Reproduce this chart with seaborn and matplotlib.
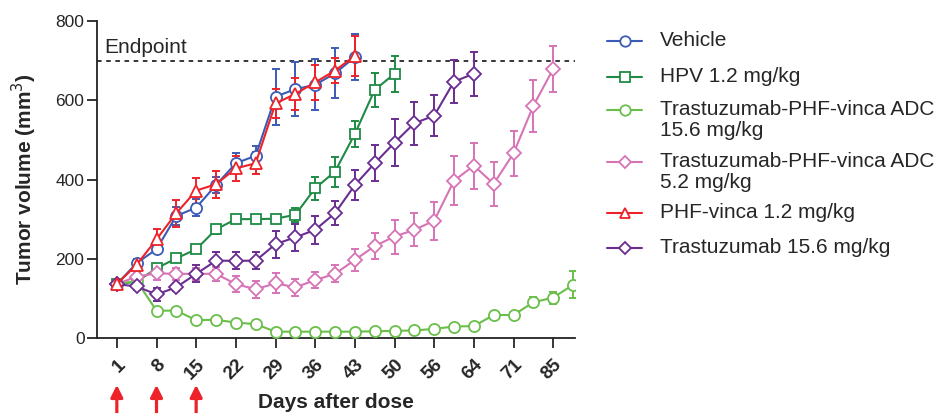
import numpy as np
import pandas as pd
import matplotlib
matplotlib.use('Agg')
import matplotlib.pyplot as plt
import seaborn as sns
from matplotlib.lines import Line2D

# tick labels (days after dose) - measurements every half tick
tick_days = ['1', '8', '15', '22', '29', '36', '43', '50', '56', '64', '71', '85']

vehicle = [136, 189, 224, 308, 329, 386, 441, 460, 609, 628, 639, 668, 709]
vehicle_err = [8, 10, 10, 23, 22, 20, 25, 25, 71, 68, 64, 63, 58]

hpv = [136, 142, 176, 201, 224, 274, 300, 300, 301, 311, 378, 420, 515, 626, 667]
hpv_err = [6, 6, 6, 6, 6, 12, 10, 8, 8, 17, 29, 38, 33, 43, 45]

adc_156 = [136, 144, 69, 69, 45, 46, 39, 35, 16, 16, 16, 16, 16, 17, 18, 19, 23, 29, 30, 58, 58, 90, 102, 134]
adc_156_err = [5, 5, 6, 5, 5, 4, 4, 4, 3, 3, 3, 3, 3, 3, 3, 3, 3, 4, 4, 6, 6, 13, 15, 34]

adc_52 = [136, 155, 163, 162, 162, 162, 136, 123, 138, 128, 146, 162, 197, 232, 256, 273, 296, 397, 435, 389, 466, 586, 679]
adc_52_err = [6, 12, 17, 15, 15, 17, 21, 21, 25, 21, 21, 21, 27, 32, 43, 42, 48, 62, 58, 56, 56, 65, 58]

phf = [136, 185, 249, 315, 372, 388, 428, 441, 592, 616, 645, 675, 712]
phf_err = [8, 10, 27, 34, 33, 34, 32, 28, 37, 40, 44, 32, 50]

trast = [136, 130, 110, 128, 162, 195, 195, 195, 237, 254, 273, 315, 386, 441, 493, 542, 561, 647, 667]
trast_err = [6, 8, 17, 10, 21, 23, 21, 21, 34, 34, 35, 31, 38, 45, 59, 54, 51, 55, 56]

dose_ticks = [0, 1, 2]  # dosing at days 1, 8, 15
endpoint = 700

series = [
    ('Vehicle', vehicle, vehicle_err, '#3b5bb5', 'o', 8),
    ('HPV 1.2 mg/kg', hpv, hpv_err, '#1f8b45', 's', 7.5),
    ('Trastuzumab-PHF-vinca ADC\n15.6 mg/kg', adc_156, adc_156_err, '#6abf4b', 'o', 8),
    ('Trastuzumab-PHF-vinca ADC\n5.2 mg/kg', adc_52, adc_52_err, '#d774b6', 'D', 7),
    ('Trastuzumab 15.6 mg/kg', trast, trast_err, '#6a2d91', 'D', 7),
    ('PHF-vinca 1.2 mg/kg', phf, phf_err, '#ee2229', '^', 8),
]

sns.set_style('ticks')
plt.rcParams['font.family'] = ['Liberation Sans', 'DejaVu Sans']

fig = plt.figure(figsize=(9.43, 4.13), dpi=100)
ax = fig.add_axes([97/943, 75/413, 478/943, 317/413])

for name, vals, errs, col, mk, ms in series:
    x = np.arange(len(vals)) / 2
    ax.errorbar(x, vals, yerr=errs, fmt='none', ecolor=col, elinewidth=1.4,
                capsize=3, capthick=1.4, zorder=2)
    sns.lineplot(x=x, y=vals, ax=ax, color=col, marker=mk, markersize=ms,
                 markerfacecolor='white', markeredgecolor=col, markeredgewidth=1.3,
                 linewidth=1.5, legend=False, zorder=3)

ax.axhline(endpoint, color='black', ls=(0, (3, 3)), lw=1.1, zorder=1)
ax.text(0.015, endpoint + 8, 'Endpoint', transform=ax.get_yaxis_transform(),
        fontsize=15, va='bottom', ha='left')

ax.set_xlim(-0.5, 11.55)
ax.set_ylim(0, 800)
ax.set_yticks([0, 200, 400, 600, 800])
ax.set_xticks(range(len(tick_days)))
ax.set_xticklabels(tick_days, rotation=45, ha='right', rotation_mode='anchor',
                   fontweight='bold', fontsize=13.5)
ax.tick_params(axis='x', length=7, width=1.3, pad=6)
ax.tick_params(axis='y', length=7, width=1.3, labelsize=12.5, pad=2)
for s in ['left', 'bottom']:
    ax.spines[s].set_linewidth(1.3)
    ax.spines[s].set_color('#222222')
sns.despine(ax=ax)

ax.set_ylabel('Tumor volume (mm$^3$)', fontsize=15, fontweight='bold', labelpad=12)
ax.set_xlabel('Days after dose', fontsize=15, fontweight='bold')
ax.xaxis.label.set_va('bottom')
ax.xaxis.set_label_coords(0.5, -0.234)

# dosing arrows
for d in dose_ticks:
    ax.annotate('', xy=(d, -0.148), xytext=(d, -0.26),
                xycoords=('data', 'axes fraction'), textcoords=('data', 'axes fraction'),
                arrowprops=dict(arrowstyle='-|>', color='#ee2229', lw=2.3,
                                mutation_scale=18, shrinkA=0, shrinkB=0),
                annotation_clip=False)

# legend drawn by hand so the markers sit on the first text line
legend_rows = [
    ('Vehicle', 40.7), ('HPV 1.2 mg/kg', 77.3),
    ('Trastuzumab-PHF-vinca ADC\n15.6 mg/kg', 110), ('Trastuzumab-PHF-vinca ADC\n5.2 mg/kg', 161.7),
    ('PHF-vinca 1.2 mg/kg', 213.3), ('Trastuzumab 15.6 mg/kg', 248.3),
]
style = {s[0]: s for s in series}
for label, ypx in legend_rows:
    _, _, _, col, mk, ms = style[label]
    yf = 1 - ypx / 413
    fig.add_artist(Line2D([607/943, 642/943], [yf, yf], color=col, lw=1.5,
                          transform=fig.transFigure))
    fig.add_artist(Line2D([624.5/943], [yf], color=col, marker=mk, markersize=ms - 0.5,
                          mfc='white', mec=col, mew=1.3, transform=fig.transFigure))
    fig.text(660/943, yf + 10/413, label, fontsize=15, va='top', ha='left',
             linespacing=1.15, transform=fig.transFigure)

fig.savefig('out.png', dpi=100)
